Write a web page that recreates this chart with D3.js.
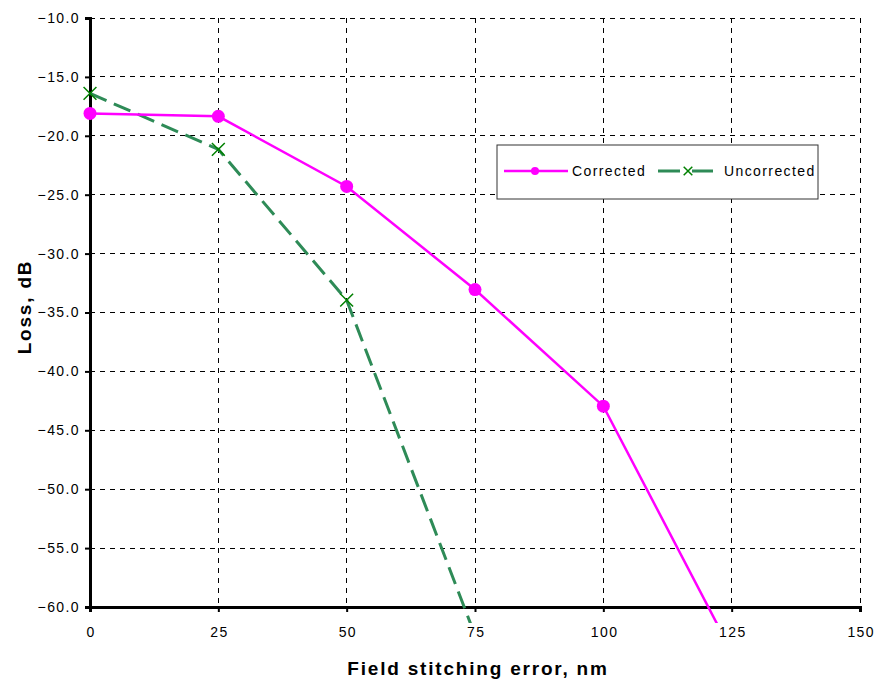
<!DOCTYPE html>
<html>
<head>
<meta charset="utf-8">
<script src="https://cdn.jsdelivr.net/npm/d3@7"></script>
<style>
  body { margin: 0; background: #fff; }
  svg { font-family: "Liberation Sans", Arial, sans-serif; }
</style>
</head>
<body>
<svg id="chart" width="875" height="682"></svg>
<script>
// chart values
const xValues = [0, 25, 50, 75, 100, 125];
const corrected = [-18.1, -18.35, -24.3, -33.05, -42.95, -63.8];
const uncorrectedX = [0, 25, 50, 75];
const uncorrected = [-16.4, -21.15, -33.95, -62.4];
const xTicks = [0, 25, 50, 75, 100, 125, 150];
const yTicks = [-10, -15, -20, -25, -30, -35, -40, -45, -50, -55, -60];
const seriesNames = ['Corrected', 'Uncorrected'];

const svg = d3.select('#chart');
const plotLeft = 90, plotRight = 860, plotTop = 18, plotBottom = 607;

const x = d3.scaleLinear().domain([0, 150]).range([plotLeft, plotRight]);
const y = d3.scaleLinear().domain([-10, -60]).range([plotTop, plotBottom]);

// clip so lines leaving the plot are cut just past the axis
svg.append('clipPath').attr('id', 'clip')
  .append('rect').attr('x', plotLeft).attr('y', plotTop)
  .attr('width', plotRight - plotLeft).attr('height', plotBottom - plotTop + 16);

// gridlines
const grid = svg.append('g');
grid.selectAll('line.h').data(yTicks.filter(d => d !== -60)).enter().append('line')
  .attr('x1', plotLeft).attr('x2', plotRight)
  .attr('y1', d => y(d)).attr('y2', d => y(d))
  .attr('stroke', '#000').attr('stroke-width', 1).attr('stroke-dasharray', '5,5')
  .attr('shape-rendering', 'crispEdges');
grid.selectAll('line.v').data(xTicks.filter(d => d !== 0)).enter().append('line')
  .attr('x1', d => x(d)).attr('x2', d => x(d))
  .attr('y1', plotTop).attr('y2', plotBottom)
  .attr('stroke', '#000').attr('stroke-width', 1).attr('stroke-dasharray', '5,5')
  .attr('shape-rendering', 'crispEdges');

// axes
const yAxis = svg.append('g').attr('transform', `translate(${plotLeft},0)`)
  .call(d3.axisLeft(y).tickValues(yTicks).tickFormat(d3.format('.1f')).tickSize(5).tickPadding(5));
const xAxis = svg.append('g').attr('transform', `translate(0,${plotBottom})`)
  .call(d3.axisBottom(x).tickValues(xTicks).tickSize(5).tickPadding(15));
[xAxis, yAxis].forEach(a => {
  a.select('.domain').attr('stroke', '#000').attr('stroke-width', 3);
  a.selectAll('.tick line').attr('stroke', '#000').attr('stroke-width', 2);
  a.selectAll('.tick text').attr('font-size', 14).attr('letter-spacing', 1.4).attr('fill', '#000')
    .attr('font-family', '"Liberation Sans", Arial, sans-serif');
});
// letter-spacing adds trailing space; nudge centred x labels back
xAxis.selectAll('.tick text').attr('dx', 0.7);

// axis titles
svg.append('text').attr('x', 478).attr('y', 675).attr('text-anchor', 'middle')
  .attr('font-size', 19).attr('font-weight', 'bold').attr('letter-spacing', 1.8)
  .text('Field stitching error, nm');
svg.append('text').attr('transform', 'translate(31,307) rotate(-90)').attr('text-anchor', 'middle')
  .attr('font-size', 19).attr('font-weight', 'bold').attr('letter-spacing', 1.8)
  .text('Loss, dB');

// series
const line = d3.line().x(d => x(d[0])).y(d => y(d[1]));
const corrData = xValues.map((v, i) => [v, corrected[i]]);
const uncData = uncorrectedX.map((v, i) => [v, uncorrected[i]]);
const plot = svg.append('g').attr('clip-path', 'url(#clip)');

plot.append('path').datum(uncData).attr('d', line)
  .attr('fill', 'none').attr('stroke', '#2E8B57').attr('stroke-width', 3)
  .attr('stroke-dasharray', '18,8');
plot.append('path').datum(corrData).attr('d', line)
  .attr('fill', 'none').attr('stroke', '#FF00FF').attr('stroke-width', 2.5);

const inside = d => d[1] >= -60;
svg.append('g').selectAll('circle').data(corrData.filter(inside)).enter().append('circle')
  .attr('cx', d => x(d[0])).attr('cy', d => y(d[1])).attr('r', 6.5).attr('fill', '#FF00FF');

const cross = d3.symbol().type(d3.symbolX).size(110);
svg.append('g').selectAll('path').data(uncData.filter(inside)).enter().append('path')
  .attr('transform', d => `translate(${x(d[0])},${y(d[1])})`).attr('d', cross)
  .attr('fill', 'none').attr('stroke', '#008000').attr('stroke-width', 1.5);

// legend
const lg = svg.append('g').attr('transform', 'translate(497,145)');
lg.append('rect').attr('width', 321).attr('height', 54)
  .attr('fill', '#fff').attr('stroke', '#333').attr('stroke-width', 1);
lg.append('line').attr('x1', 7).attr('x2', 71).attr('y1', 26).attr('y2', 26)
  .attr('stroke', '#FF00FF').attr('stroke-width', 2.5);
lg.append('circle').attr('cx', 38).attr('cy', 26).attr('r', 4).attr('fill', '#FF00FF');
lg.append('text').attr('x', 75).attr('y', 31).attr('font-size', 14).attr('letter-spacing', 1.4)
  .text(seriesNames[0]);
lg.append('line').attr('x1', 161).attr('x2', 216).attr('y1', 26).attr('y2', 26)
  .attr('stroke', '#2E8B57').attr('stroke-width', 3).attr('stroke-dasharray', '22,12');
lg.append('path').attr('transform', 'translate(191,26)').attr('d', d3.symbol().type(d3.symbolX).size(50))
  .attr('fill', 'none').attr('stroke', '#008000').attr('stroke-width', 1.5);
lg.append('text').attr('x', 227).attr('y', 31).attr('font-size', 14).attr('letter-spacing', 1.4)
  .text(seriesNames[1]);
</script>
</body>
</html>
